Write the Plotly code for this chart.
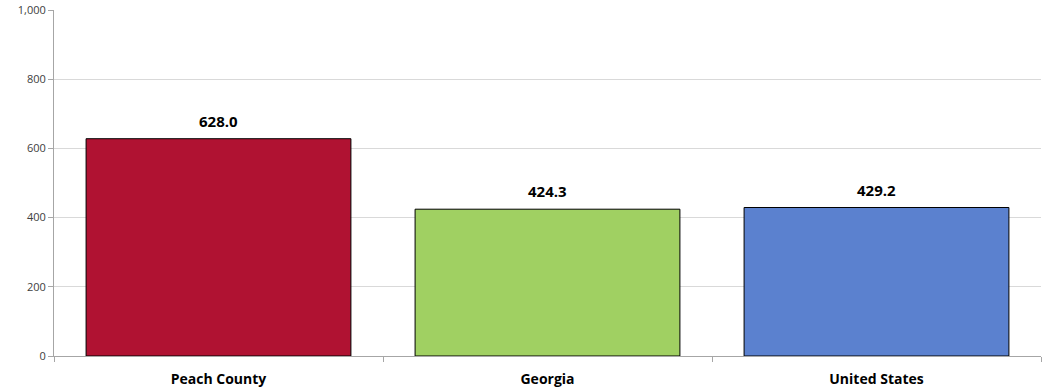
import plotly.graph_objects as go

categories = ["Peach County", "Georgia", "United States"]
values = [628.0, 424.3, 429.2]
value_labels = ["628.0", "424.3", "429.2"]
bar_colors = ["#B01232", "#A0D062", "#5B81CF"]
y_ticks = [0, 200, 400, 600, 800, 1000]
y_tick_labels = ["0", "200", "400", "600", "800", "1,000"]

fig = go.Figure(
    go.Bar(
        x=categories,
        y=values,
        marker=dict(color=bar_colors, line=dict(color="#000000", width=1)),
        hoverinfo="skip",
    )
)

for cat, val, lab in zip(categories, values, value_labels):
    fig.add_annotation(
        x=cat,
        y=val,
        text=lab,
        showarrow=False,
        yanchor="bottom",
        yshift=6,
        font=dict(family="Open Sans", size=15, color="#000000", weight="bold"),
    )

fig.update_layout(
    width=1048,
    height=392,
    margin=dict(l=54, r=7, t=10, b=36),
    paper_bgcolor="#FFFFFF",
    plot_bgcolor="#FFFFFF",
    bargap=0.195,
    showlegend=False,
    font=dict(family="Open Sans", color="#404040"),
)

fig.update_xaxes(
    type="category",
    automargin=False,
    showgrid=False,
    showline=True,
    linecolor="#A6A6A6",
    linewidth=1,
    ticks="outside",
    tickson="boundaries",
    ticklen=5,
    tickcolor="#A6A6A6",
    ticklabelstandoff=10,
    tickfont=dict(family="Open Sans", size=14, color="#000000", weight="bold"),
)

fig.update_yaxes(
    range=[0, 1000],
    automargin=False,
    tickvals=y_ticks,
    ticktext=y_tick_labels,
    showgrid=True,
    gridcolor="#D9D9D9",
    gridwidth=1,
    showline=True,
    linecolor="#A6A6A6",
    linewidth=1,
    ticks="outside",
    ticklen=5,
    tickcolor="#A6A6A6",
    tickfont=dict(family="Open Sans", size=11, color="#404040"),
    zeroline=False,
)

fig.write_html(
    "out.html",
    config={"displayModeBar": False},
    post_script="document.body.style.margin='0px';",
)
